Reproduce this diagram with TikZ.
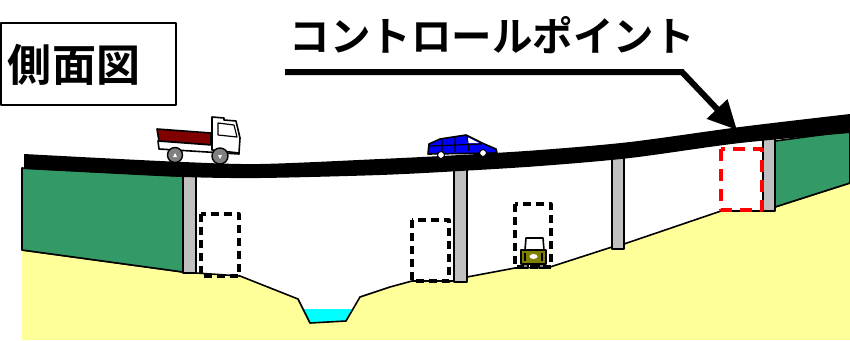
\documentclass[tikz,border=0pt]{standalone}
\usepackage{fontspec}
\newfontfamily\jpfont{Noto Sans CJK JP Bold}
\usetikzlibrary{arrows.meta}
\definecolor{wallgreen}{HTML}{339966}
\definecolor{soil}{HTML}{FFFF99}
\definecolor{piergray}{HTML}{C0C0C0}
\definecolor{water}{HTML}{00FFFF}
\definecolor{bedred}{HTML}{800000}
\definecolor{carblue}{HTML}{0000FF}
\definecolor{jeepolive}{HTML}{808000}
\definecolor{tyregray}{HTML}{808080}

\begin{document}
\begin{tikzpicture}[x=1pt, y=-1pt, line join=round,
  outline/.style={draw=black, line width=1.6pt},
  pier/.style={outline, fill=piergray},
  wall/.style={outline, fill=wallgreen},
  gauge/.style={draw=black, line width=3.2pt, dash pattern=on 8pt off 5pt},
  gaugered/.style={draw=red, line width=3.8pt, dash pattern=on 12pt off 8pt},
  tyre/.style={draw=black, line width=1.4pt, fill=tyregray},
  label/.style={inner sep=0pt, font=\jpfont}]
\useasboundingbox (0,0) rectangle (850,340);

% ground and river
\fill[soil] (22,250) -- (183,272) -- (196,273) -- (240,276) -- (298,299)
  -- (310,323) -- (346,321) -- (360,297) -- (390,287) -- (412,281)
  -- (454,281) -- (467,277) -- (515,268) -- (550,267) -- (612,247)
  -- (624,244) -- (721,211) -- (763,211) -- (775,207) -- (850,183)
  -- (850,340) -- (22,340) -- cycle;
\fill[water] (302,309) -- (353,309) -- (346,321) -- (310,323) -- cycle;
\draw[outline] (22,250) -- (183,272) -- (196,273) -- (240,276) -- (298,299)
  -- (310,323) -- (346,321) -- (360,297) -- (390,287) -- (412,281)
  -- (454,281) -- (467,277) -- (515,268) -- (550,267) -- (612,247)
  -- (624,244) -- (721,211) -- (763,211) -- (775,207) -- (850,183);

% abutment walls
\draw[wall] (22,168) -- (183,176) -- (183,272) -- (22,250) -- cycle;
\draw[wall] (775,141) -- (850,131) -- (850,183) -- (775,207) -- cycle;

% piers
\draw[pier] (183,170) rectangle (196,273);
\draw[pier] (454,165) rectangle (467,282);
\draw[pier] (612,150) rectangle (624,249);
\draw[pier] (763,135) rectangle (775,211);

% deck
\fill[black] plot[smooth] coordinates {(24,154) (100,158) (183,162) (260,164)
    (380,159) (460,155) (540,150) (630,142) (740,127) (850,114)}
  -- plot[smooth] coordinates {(850,133) (740,143) (630,158) (540,166)
    (460,171) (380,175) (260,178) (183,177) (100,173) (24,169)} -- cycle;

% clearance gauges
\draw[gauge] (201,214) rectangle (239,276);
\draw[gauge] (412,220) rectangle (449,281);
\draw[gauge] (515,204) rectangle (551,267);
\draw[gaugered] (721,149) rectangle (762,210);

% dump truck
\draw[outline, fill=bedred] (157,129) -- (211,133) -- (211,145) -- (159,141) -- cycle;
\draw[outline, fill=white] (158,141) -- (212,145) -- (239,147) -- (239,154) -- (159,149) -- cycle;
\draw[outline, fill=white] (212,117) -- (224,118) -- (224,120) -- (236,121) -- (240,138)
  -- (239,153) -- (212,150) -- cycle;
\draw[black, line width=1.2pt] (218,123) -- (234,125) -- (237,137) -- (218,135) -- cycle;
\draw[tyre] (175,155) circle (7.5);
\draw[tyre] (220,156) circle (8);
\fill[white] (173,157) -- (177,157) -- (175,153) -- cycle;
\fill[white] (218,155) -- (222,155) -- (220,159) -- cycle;

% car
\draw[outline, fill=carblue] (428,154) -- (429,144) -- (440,139) -- (466,135) -- (482,143)
  -- (496,149) -- (497,153) -- cycle;
\fill[white] (467,137) -- (479,143) -- (467,143) -- cycle;
\draw[black, line width=1.2pt] (430,146) -- (481,144)
  (442,140) -- (442,153) (455,137) -- (455,152) (467,136) -- (469,151);
\draw[black, line width=1pt, fill=white] (441,155) circle (3.5);
\draw[black, line width=1pt, fill=white] (483,153) circle (3.5);

% jeep
\draw[outline, fill=white] (525,250) -- (526,238) -- (543,238) -- (544,250) -- cycle;
\draw[tyre] (523,262) rectangle (528,268);
\draw[tyre] (539,262) rectangle (544,268);
\draw[outline, fill=jeepolive] (521,250) rectangle (546,264);
\fill[white] (533.5,256.5) ellipse (4 and 2.5);
\draw[black, line width=1.5pt] (525,253) -- (525,261) (542,253) -- (542,261);

% captions
\draw[black, line width=1.5pt] (1,23) rectangle (176,105);
\node[label, font=\jpfont\fontsize{44}{44}\selectfont] (sidetitle) at (74,65) {側面図};
\node[label, font=\jpfont\fontsize{40.5}{40.5}\selectfont] (cptitle) at (492,35) {コントロールポイント};

% leader arrow to the control point
\coordinate (ulstart) at (285,72);
\coordinate (ulbend) at (682,72);
\coordinate (cpoint) at (737,130);
\draw[line width=6pt, line join=miter, -{Triangle[length=29pt, width=27pt]}]
  (ulstart) -- (ulbend) -- (cpoint);
\end{tikzpicture}
\end{document}
